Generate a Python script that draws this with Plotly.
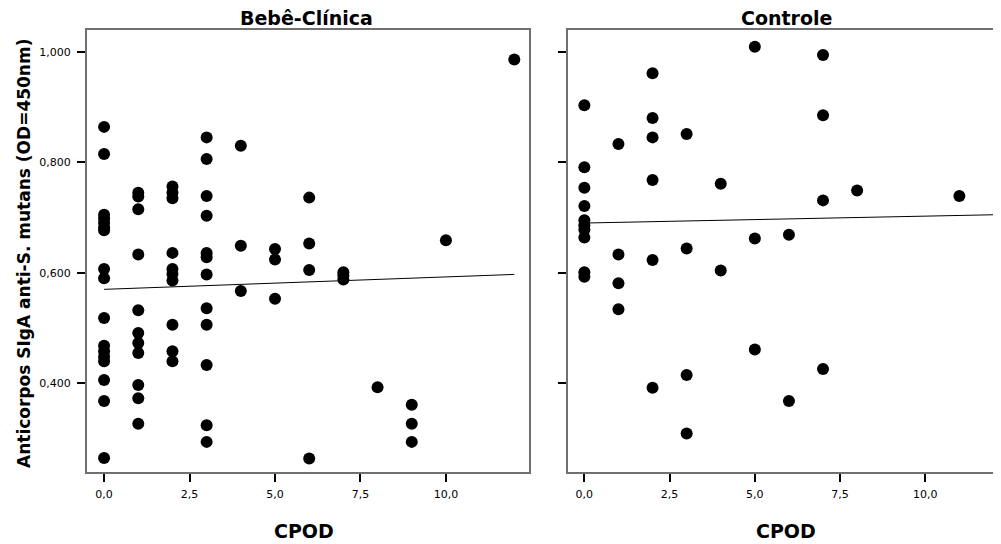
import plotly.graph_objects as go

# ---------------- data ----------------
bebe_cpod = ([0] * 17 + [1] * 11 + [2] * 10 + [3] * 12 + [4] * 3 + [5] * 3 +
             [6] * 4 + [7] * 3 + [8] + [9] * 3 + [10] + [12])
bebe_siga = [0.864, 0.815, 0.705, 0.698, 0.690, 0.682, 0.677, 0.607, 0.590, 0.518,
             0.468, 0.458, 0.448, 0.440, 0.406, 0.368, 0.265,
             0.745, 0.738, 0.715, 0.633, 0.532, 0.491, 0.473, 0.455, 0.397, 0.373, 0.327,
             0.756, 0.745, 0.735, 0.636, 0.607, 0.598, 0.586, 0.506, 0.458, 0.440,
             0.845, 0.806, 0.739, 0.703, 0.636, 0.628, 0.597, 0.536, 0.506, 0.433, 0.324, 0.294,
             0.830, 0.649, 0.567,
             0.643, 0.624, 0.553,
             0.736, 0.653, 0.605, 0.264,
             0.601, 0.595, 0.588,
             0.393,
             0.361, 0.327, 0.294,
             0.659,
             0.986]

ctrl_cpod = ([0] * 10 + [1] * 4 + [2] * 6 + [3] * 4 + [4] * 2 + [5] * 3 +
             [6] * 2 + [7] * 4 + [8] + [11])
ctrl_siga = [0.903, 0.791, 0.754, 0.721, 0.695, 0.686, 0.678, 0.664, 0.601, 0.593,
             0.833, 0.633, 0.581, 0.534,
             0.961, 0.880, 0.845, 0.768, 0.623, 0.392,
             0.851, 0.644, 0.415, 0.309,
             0.761, 0.604,
             1.009, 0.662, 0.461,
             0.669, 0.368,
             0.994, 0.885, 0.731, 0.426,
             0.749,
             0.739]

fit_x = [0, 12]
bebe_fit = [0.570, 0.597]
ctrl_fit = [0.690, 0.705]

x_tickvals = [0, 2.5, 5, 7.5, 10]
x_ticktext = ["0,0", "2,5", "5,0", "7,5", "10,0"]
y_tickvals = [0.4, 0.6, 0.8, 1.0]
y_ticktext = ["0,400", "0,600", "0,800", "1,000"]

panel_titles = ["Bebê-Clínica", "Controle"]
x_title = "CPOD"
y_title = "Anticorpos SIgA anti-S. mutans (OD=450nm)"

# ---------------- layout geometry ----------------
# the page body adds an 8px margin; the figure is sized to fill the rest
OFF = 8
W, H = 1001 - OFF, 544 - OFF
ML, MT = 87 - OFF, 30 - OFF
MR = 0
MB = 544 - 472
PW = W - ML - MR
PH = H - MT - MB


def px(xp):
    return (xp - OFF - ML) / PW


def py(yp):
    return (544 - MB - yp) / PH


fig = go.Figure()

marker = dict(color="black", size=12, line=dict(width=0))
fig.add_trace(go.Scatter(x=bebe_cpod, y=bebe_siga, mode="markers", marker=marker,
                         xaxis="x", yaxis="y", showlegend=False))
fig.add_trace(go.Scatter(x=fit_x, y=bebe_fit, mode="lines",
                         line=dict(color="black", width=1),
                         xaxis="x", yaxis="y", showlegend=False))
fig.add_trace(go.Scatter(x=ctrl_cpod, y=ctrl_siga, mode="markers", marker=marker,
                         xaxis="x2", yaxis="y2", showlegend=False))
fig.add_trace(go.Scatter(x=fit_x, y=ctrl_fit, mode="lines",
                         line=dict(color="black", width=1),
                         xaxis="x2", yaxis="y2", showlegend=False))

frame = "#707070"
tickfont = dict(family="DejaVu Sans", size=11, color="black")
common_x = dict(showgrid=False, zeroline=False, showline=True, linecolor=frame,
                linewidth=2, mirror=True, ticks="outside", ticklen=8, tickwidth=2,
                tickcolor="black", tickvals=x_tickvals, ticktext=x_ticktext,
                tickfont=tickfont, ticklabelstandoff=3)
common_y = dict(showgrid=False, zeroline=False, showline=True, linecolor=frame,
                linewidth=2, ticks="outside", ticklen=8, tickwidth=2,
                tickcolor="black", tickvals=y_tickvals, ticktext=y_ticktext,
                tickfont=tickfont, range=[0.2395, 1.0393])

left_dom = [0, px(529)]
right_dom = [px(568), 1]

fig.update_layout(
    width=W, height=H,
    margin=dict(l=ML, r=MR, t=MT, b=MB, pad=0),
    paper_bgcolor="white", plot_bgcolor="white",
    font=dict(family="DejaVu Sans", color="black"),
    xaxis=dict(domain=left_dom, range=[-0.5, 12.43], anchor="y", **common_x),
    yaxis=dict(domain=[0, 1], anchor="x", mirror=True, ticklabelstandoff=4, **common_y),
    xaxis2=dict(domain=right_dom, range=[-0.48, 12.22], anchor="y2", **common_x),
    yaxis2=dict(domain=[0, 1], anchor="x2", mirror=False, showticklabels=False, **common_y),
)

title_font = dict(family="DejaVu Sans", size=19, color="black")
ann = []
ann.append(dict(text="<b>%s</b>" % panel_titles[0], x=px(306), y=py(18), xref="paper",
                yref="paper", showarrow=False, font=title_font, xanchor="center", yanchor="middle"))
ann.append(dict(text="<b>%s</b>" % panel_titles[1], x=px(786), y=py(18), xref="paper",
                yref="paper", showarrow=False, font=title_font, xanchor="center", yanchor="middle"))
ann.append(dict(text="<b>%s</b>" % x_title, x=px(304), y=py(531), xref="paper",
                yref="paper", showarrow=False, font=title_font, xanchor="center", yanchor="middle"))
ann.append(dict(text="<b>%s</b>" % x_title, x=px(786), y=py(531), xref="paper",
                yref="paper", showarrow=False, font=title_font, xanchor="center", yanchor="middle"))
ann.append(dict(text="<b>%s</b>" % y_title, x=px(24), y=py(254), xref="paper",
                yref="paper", showarrow=False, textangle=-90,
                font=dict(family="DejaVu Sans", size=17, color="black"),
                xanchor="center", yanchor="middle"))
fig.update_layout(annotations=ann)

fig.write_html("out.html")
